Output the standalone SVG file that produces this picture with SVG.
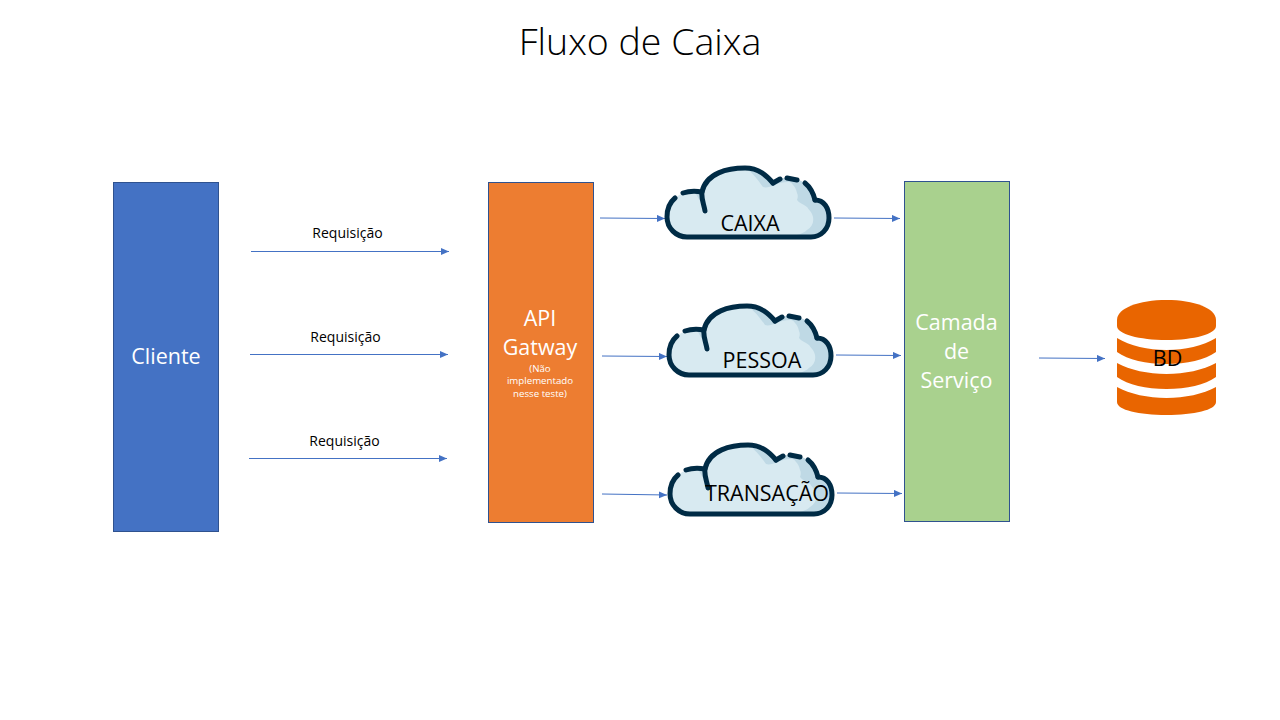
<svg xmlns="http://www.w3.org/2000/svg" xmlns:xlink="http://www.w3.org/1999/xlink" width="1280" height="720" viewBox="0 0 1280 720">
<style>
text{font-family:"Open Sans","Noto Sans","Liberation Sans",sans-serif;text-anchor:middle}
.box{stroke:#2F528F;stroke-width:1}
.w{fill:#fff}
.k{fill:#000}
.conn{stroke:#4472C4;stroke-width:1;fill:none;marker-end:url(#arrow)}
.cl{fill:none;stroke:#002B45;stroke-width:5;stroke-linecap:round;stroke-linejoin:round}
.db{fill:#E96500}
</style>
<defs>
<marker id="arrow" markerWidth="9" markerHeight="8" refX="8" refY="3.500" orient="auto" markerUnits="userSpaceOnUse"><path d="M0 0L8 3.500L0 7z" fill="#4472C4"/></marker>
<symbol id="cloud" viewBox="0 0 180 85" width="180" height="85" overflow="visible">
<path d="M19 31C23 28 25 27 27 26C34 24 40 24 46 25C50 6 72 1 89 1C103 1 111 9 117 16L124 12C132 9 142 12 149 16C154 20 157 25 159 33C168 33 173 41 173 51C173 62 165 70 155 70H31A20 20 0 0 1 11 50C11 43 13 36 19 31Z" fill="#D8EAF1"/>
<path d="M89 1C103 1 111 9 117 16L124 12C132 9 142 12 149 16C154 20 157 25 159 33C168 33 173 41 173 51C173 62 165 70 155 70H130C136 69 146 68 151 63C156 60 158 56 157 50C156 45 153 43 151 40C147 37 143 36 141 33C142 30 142 28 141 26C140 22 139 20 137 18C135 15 134 15 132 15C127 15 123 16 119 18C114 20 110 21 107 20C102 13 97 6 89 1Z" fill="#BFD9E5"/>
<path d="M39 25L46 25L48 44C46 36 42 31 39 25Z" fill="#BFD9E5"/>
<path class="cl" d="M19 31C13 36 11 43 11 50A20 20 0 0 0 31 70H155C165 70 173 62 173 51C173 41 168 33 159 33"/>
<path class="cl" d="M159 33C157 25 154 20 149 16"/>
<path class="cl" d="M131 11L141 13"/>
<path class="cl" d="M117 16L124 12"/>
<path class="cl" d="M49 44C48 37 45 32 46 25C50 6 72 1 89 1C103 1 111 9 117 16"/>
<path class="cl" d="M27 26C33 24 40 24 46 25"/>
</symbol>
</defs>
<rect width="1280" height="720" fill="#fff"/>
<text x="640" y="55" font-size="37.500" font-weight="300" class="k" id="title">Fluxo de Caixa</text>
<g id="connectors">
<path class="conn" d="M251 251.500H449"/>
<path class="conn" d="M250 354.500H448"/>
<path class="conn" d="M249 458.500H447"/>
<path class="conn" d="M600 218L665 218.500"/>
<path class="conn" d="M602 356L667 356.500"/>
<path class="conn" d="M602 494L667 495"/>
<path class="conn" d="M834 218L900 218.500"/>
<path class="conn" d="M836 355L901 355.500"/>
<path class="conn" d="M837 493L902 493.500"/>
<path class="conn" d="M1039 358L1105 358.500"/>
</g>
<g id="label-1"><text x="347.500" y="238" font-size="14" class="k">Requisição</text></g>
<g id="label-2"><text x="345.500" y="342" font-size="14" class="k">Requisição</text></g>
<g id="label-3"><text x="344.500" y="446" font-size="14" class="k">Requisição</text></g>
<g id="cliente"><rect class="box" x="113.500" y="182.500" width="105" height="349" fill="#4472C4"/><text x="166" y="364" font-size="21.500" class="w">Cliente</text></g>
<g id="api-gateway"><rect class="box" x="488.500" y="182.500" width="105" height="340" fill="#ED7D31"/>
<text x="540" y="326" font-size="21.500" class="w">API</text><text x="540" y="355" font-size="21.500" class="w">Gatway</text>
<text x="540" y="372" font-size="9.700" class="w">(Não</text><text x="540" y="384" font-size="9.700" class="w">implementado</text><text x="540" y="397" font-size="9.700" class="w">nesse teste)</text></g>
<g id="cloud-caixa"><use xlink:href="#cloud" href="#cloud" x="656" y="167"/><text x="750" y="231" font-size="21.500" class="k">CAIXA</text></g>
<g id="cloud-pessoa"><use xlink:href="#cloud" href="#cloud" x="658" y="305"/><text x="762" y="368" font-size="21.500" class="k">PESSOA</text></g>
<g id="cloud-transacao"><use xlink:href="#cloud" href="#cloud" x="659" y="444"/><text x="767" y="501" font-size="21.500" class="k">TRANSAÇÃO</text></g>
<g id="camada"><rect class="box" x="904.500" y="181.500" width="105" height="340" fill="#A9D18E"/>
<text x="956.500" y="330" font-size="21.500" class="w">Camada</text><text x="956.500" y="359" font-size="21.500" class="w">de</text><text x="956.500" y="388" font-size="21.500" class="w">Serviço</text></g>
<g id="bd">
<path class="db" d="M1117 320C1117 308 1139 300 1166.500 300S1216 308 1216 320V326C1216 334 1194 340 1166.500 340S1117 334 1117 326Z"/>
<path class="db" d="M1117 338C1130 346 1148 350 1166.500 350S1203 346 1216 338V352C1205 360 1187 364 1166.500 364S1128 360 1117 352Z"/>
<path class="db" d="M1117 363C1130 370 1148 374 1166.500 374S1203 370 1216 363V377C1205 385 1187 389 1166.500 389S1128 385 1117 377Z"/>
<path class="db" d="M1117 387C1130 394 1148 398 1166.500 398S1203 394 1216 387V402C1216 410 1194 415 1166.500 415S1117 410 1117 402Z"/>
<text x="1167.500" y="366" font-size="21.500" class="k">BD</text></g>
</svg>
